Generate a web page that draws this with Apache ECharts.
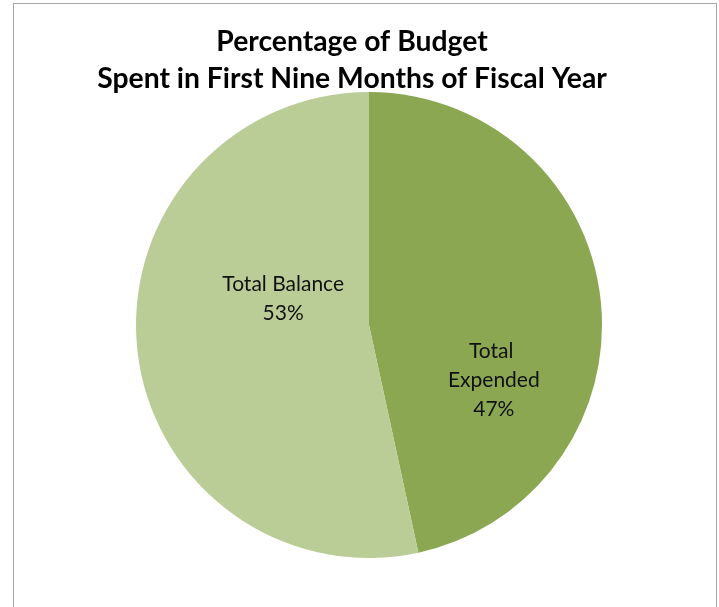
<!DOCTYPE html>
<html>
<head>
<meta charset="utf-8">
<script src="https://cdn.jsdelivr.net/npm/echarts@6/dist/echarts.min.js"></script>
<style>
html,body{margin:0;padding:0;background:#fff;width:719px;height:607px;overflow:hidden;}
#frame{position:absolute;left:13px;top:3px;width:704px;height:640px;border:1px solid #a6a6a6;box-sizing:border-box;}
#chart{position:absolute;left:0;top:0;width:719px;height:607px;}
</style>
</head>
<body>
<div id="frame"></div>
<div id="chart"></div>
<script>
const titleLines = ['Percentage of Budget', 'Spent in First Nine Months of Fiscal Year'];
const categories = ['Total Expended', 'Total Balance'];
const values = [46.6, 53.4];
const colors = ['#8ba752', '#bbcd97'];

const chart = echarts.init(document.getElementById('chart'), null, {renderer: 'canvas'});
const labelFont = {fontFamily: 'Lato, "Open Sans", sans-serif', fontSize: 21, color: '#111', lineHeight: 29};
chart.setOption({
  animation: false,
  title: {
    text: titleLines.join('\n'),
    left: 347,
    top: 18,
    textAlign: 'center',
    textStyle: {fontFamily: 'Lato, "Open Sans", sans-serif', fontWeight: 'bold', fontSize: 28.3, color: '#000', lineHeight: 37}
  },
  series: [{
    type: 'pie',
    center: [369, 325],
    radius: 233,
    startAngle: 90,
    clockwise: true,
    percentPrecision: 0,
    label: Object.assign({show: true, position: 'inside', formatter: '{b}\n{d}%', overflow: 'break', align: 'center'}, labelFont),
    labelLine: {show: false},
    emphasis: {disabled: true},
    itemStyle: {borderWidth: 0},
    data: categories.map((c, i) => ({
      name: c,
      value: values[i],
      itemStyle: {color: colors[i]},
      label: i === 0 ? {width: 110, offset: [6, 68]} : {width: 180, offset: [33, -39]}
    }))
  }]
});
</script>
</body>
</html>
